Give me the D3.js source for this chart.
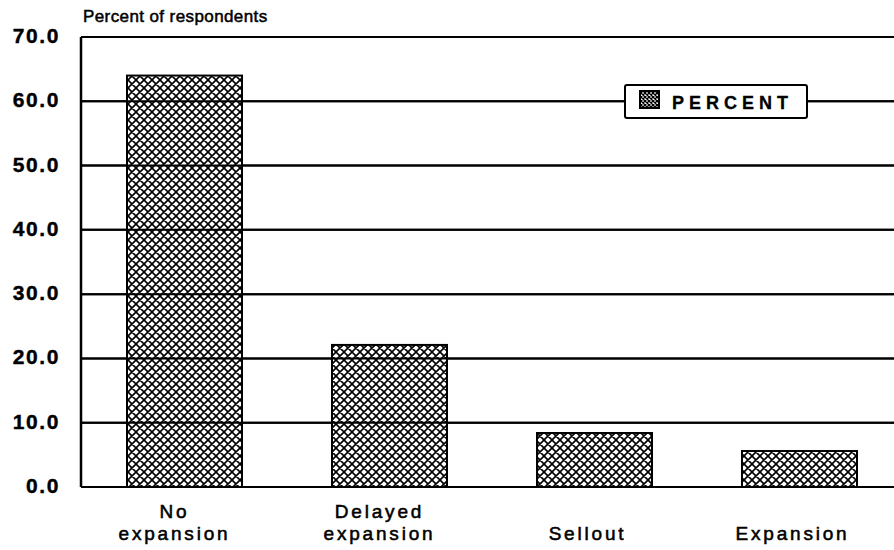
<!DOCTYPE html>
<html><head><meta charset="utf-8">
<script src="https://cdn.jsdelivr.net/npm/d3@7"></script>
<style>body{margin:0;background:#fff}svg{display:block}text{font-family:"Liberation Sans",Arial,sans-serif;fill:#000}</style>
</head><body>
<script>
const categories = [["No","expansion"],["Delayed","expansion"],["Sellout"],["Expansion"]];
const values = [64.0, 22.1, 8.4, 5.6];
const yTicks = [0,10,20,30,40,50,60,70];
const seriesName = "PERCENT";
const yTitle = "Percent of respondents";

const W=894,H=550;
const m={l:81,r:0,t:37,b:63};
const svg=d3.select("body").append("svg").attr("width",W).attr("height",H);
const defs=svg.append("defs");
const pat=defs.append("pattern").attr("id","hatch").attr("patternUnits","userSpaceOnUse").attr("width",8).attr("height",8);
pat.append("rect").attr("width",8).attr("height",8).attr("fill","#fff");
pat.append("path").attr("d","M-1,-1L9,9M-1,9L9,-1M3,-5L13,5M-5,3L5,13M5,-5L-5,5M13,3L3,13").attr("stroke","#000").attr("stroke-width",1.6);
const pat2=defs.append("pattern").attr("id","hatch2").attr("patternUnits","userSpaceOnUse").attr("width",4).attr("height",4);
pat2.append("rect").attr("width",4).attr("height",4).attr("fill","#fff");
pat2.append("path").attr("d","M-1,-1L5,5M-1,5L5,-1").attr("stroke","#000").attr("stroke-width",1.3);

const x=d3.scaleBand().domain(d3.range(categories.length)).range([127,857]).paddingInner(0.439).paddingOuter(0);
const y=d3.scaleLinear().domain([0,70]).range([H-m.b,m.t]);

// gridlines
svg.append("g").selectAll("line").data(yTicks).join("line")
  .attr("x1",m.l).attr("x2",W).attr("y1",d=>y(d)).attr("y2",d=>y(d))
  .attr("stroke","#000").attr("stroke-width",2);
// y axis line
svg.append("line").attr("x1",m.l).attr("x2",m.l).attr("y1",y(70)).attr("y2",y(0)).attr("stroke","#000").attr("stroke-width",2.5);

// bars
svg.append("g").selectAll("rect").data(values).join("rect")
  .attr("x",(d,i)=>x(i)).attr("width",x.bandwidth())
  .attr("y",d=>y(d)).attr("height",d=>y(0)-y(d))
  .attr("fill","url(#hatch)").attr("stroke","#000").attr("stroke-width",2);
// gridlines pass through the bars
svg.append("g").selectAll("line").data(yTicks.filter(t=>t>0&&t<70)).join("line")
  .attr("x1",m.l).attr("x2",W).attr("y1",d=>y(d)).attr("y2",d=>y(d))
  .attr("stroke","#000").attr("stroke-width",2);

// y tick labels
svg.append("g").selectAll("text").data(yTicks).join("text")
  .attr("x",60).attr("y",d=>y(d)+6).attr("text-anchor","end")
  .attr("font-size",21).attr("font-weight","bold").attr("letter-spacing",1.6)
  .attr("stroke","#000").attr("stroke-width",0.4)
  .text(d=>d3.format(".1f")(d));

// y title
svg.append("text").attr("x",83).attr("y",22).attr("font-size",17).attr("letter-spacing",0.4)
  .attr("stroke","#000").attr("stroke-width",0.5).text(yTitle);

// x labels
const xl=svg.append("g").selectAll("text").data(categories).join("text")
  .attr("text-anchor","middle").attr("font-size",19).attr("letter-spacing",2.8)
  .attr("stroke","#000").attr("stroke-width",0.55)
  .attr("x",(d,i)=>x(i)+x.bandwidth()/2-(d.length===1?7:10));
xl.each(function(d){
  const t=d3.select(this);
  const lines=d.length===1?[null,d[0]]:d;
  lines.forEach((s,k)=>{ if(s!==null) t.append("tspan").attr("x",t.attr("x")).attr("y",518+k*22).text(s); });
});

// legend
const lg=svg.append("g").attr("transform","translate(625,85)");
lg.append("rect").attr("width",182).attr("height",33).attr("rx",2).attr("fill","#fff").attr("stroke","#000").attr("stroke-width",2);
lg.append("rect").attr("x",15).attr("y",6).attr("width",19).attr("height",17).attr("fill","url(#hatch2)").attr("stroke","#000").attr("stroke-width",2);
lg.append("text").attr("x",47).attr("y",24).attr("font-size",18).attr("font-weight","bold").attr("letter-spacing",5)
  .attr("stroke","#000").attr("stroke-width",0.3).text(seriesName);
</script>
</body></html>
